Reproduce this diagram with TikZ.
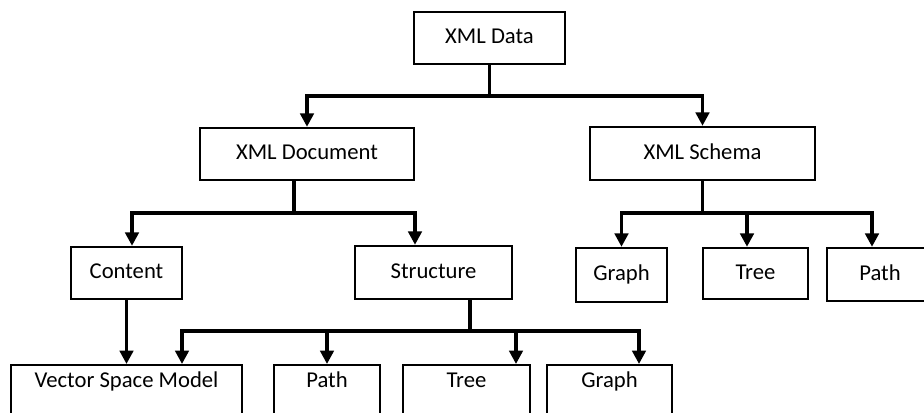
\documentclass[tikz,border=0pt]{standalone}
\usepackage{fontspec}
\setmainfont{Carlito}
\usetikzlibrary{arrows.meta}
\begin{document}
\begin{tikzpicture}[x=0.75pt,y=-0.75pt,
  box/.style={draw, line width=1.8pt, rectangle, inner sep=0pt,
    font=\fontsize{17}{20}\selectfont, text height=12pt, text depth=3.5pt},
  bbox/.style={draw, line width=1.8pt, rectangle, inner sep=0pt, anchor=north,
    font=\fontsize{17}{20}\selectfont, text height=17pt, text depth=28pt},
  conn/.style={line width=2.6pt},
  arr/.style={conn, -{Triangle[width=10pt,length=10pt]}}]
\clip (0,0) rectangle (924,412);
% top level
\node[box, minimum width=0.75pt*151, minimum height=0.75pt*52] (data) at (489.5,38) {XML Data};
\node[box, minimum width=0.75pt*214, minimum height=0.75pt*52] (doc) at (307,154) {XML Document};
\node[box, minimum width=0.75pt*225, minimum height=0.75pt*53] (schema) at (702.5,153.5) {XML Schema};
% second level
\node[box, minimum width=0.75pt*111, minimum height=0.75pt*52] (content) at (126.5,273) {Content};
\node[box, minimum width=0.75pt*157, minimum height=0.75pt*53] (struct) at (433.5,272.5) {Structure};
\node[box, minimum width=0.75pt*91, minimum height=0.75pt*54] (sgraph) at (621.5,275) {Graph};
\node[box, minimum width=0.75pt*105, minimum height=0.75pt*51] (stree) at (755.5,273.5) {Tree};
\node[box, minimum width=0.75pt*106, minimum height=0.75pt*53] (spath) at (880,274.5) {Path};
% bottom level
\node[bbox, minimum width=0.75pt*231] (vsm) at (126.5,364) {Vector Space Model};
\node[bbox, minimum width=0.75pt*106] (bpath) at (327,364) {Path};
\node[bbox, minimum width=0.75pt*127] (btree) at (466.5,364) {Tree};
\node[bbox, minimum width=0.75pt*125] (bgraph) at (609.5,364) {Graph};
% junctions
\coordinate (j1) at (489.5,96);
\coordinate (j2) at (294,213);
\coordinate (c1) at (132,213);
\coordinate (c2) at (415,213);
\coordinate (j3) at (702.5,213);
\coordinate (t1) at (747,213);
\coordinate (t2) at (872,213);
\coordinate (j4) at (470,331);
\coordinate (b1) at (182,331);
\coordinate (b2) at (516,331);
\coordinate (b3) at (639,331);
% connectors
\draw[arr] (data.south) -- (j1) -| (doc.north);
\draw[arr] (j1) -| (schema.north);
\draw[arr] (doc.south -| j2) -- (j2) -| (c1 |- content.north);
\draw[arr] (j2) -| (c2 |- struct.north);
\draw[arr] (schema.south) -- (j3) -| (sgraph.north);
\draw[arr] (j3) -| (t2 |- spath.north);
\draw[arr] (t1) -- (t1 |- stree.north);
\draw[arr] (content.south) -- (content.south |- vsm.north);
\draw[arr] (struct.south -| j4) -- (j4) -| (b1 |- vsm.north);
\draw[arr] (j4) -| (b3 |- bgraph.north);
\draw[arr] (bpath.north |- j4) -- (bpath.north);
\draw[arr] (b2) -- (b2 |- btree.north);
\end{tikzpicture}
\end{document}
